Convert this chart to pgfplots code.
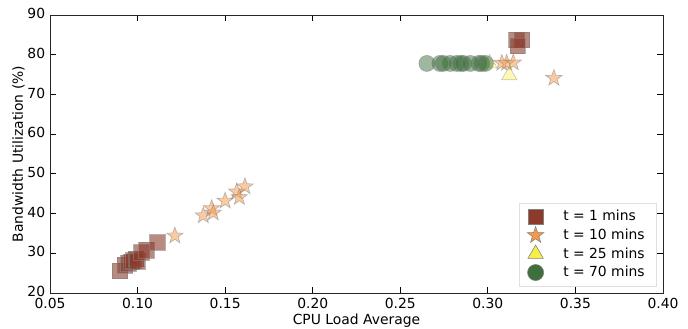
\documentclass[border=0pt]{standalone}
\usepackage{pgfplots}
\pgfplotsset{compat=1.18}
\usepackage{fontspec}
\setmainfont{DejaVu Sans}
\definecolor{sqc}{RGB}{140,58,42}
\definecolor{stc}{RGB}{246,152,72}
\definecolor{trc}{RGB}{246,240,70}
\definecolor{cic}{RGB}{62,112,62}
\definecolor{edg}{RGB}{128,128,128}
\pgfdeclareplotmark{fstar}{%
  \pgfpathmoveto{\pgfpointpolar{90}{\pgfplotmarksize}}%
  \pgfpathlineto{\pgfpointpolar{126}{0.4\pgfplotmarksize}}%
  \pgfpathlineto{\pgfpointpolar{162}{\pgfplotmarksize}}%
  \pgfpathlineto{\pgfpointpolar{198}{0.4\pgfplotmarksize}}%
  \pgfpathlineto{\pgfpointpolar{234}{\pgfplotmarksize}}%
  \pgfpathlineto{\pgfpointpolar{270}{0.4\pgfplotmarksize}}%
  \pgfpathlineto{\pgfpointpolar{306}{\pgfplotmarksize}}%
  \pgfpathlineto{\pgfpointpolar{342}{0.4\pgfplotmarksize}}%
  \pgfpathlineto{\pgfpointpolar{18}{\pgfplotmarksize}}%
  \pgfpathlineto{\pgfpointpolar{54}{0.4\pgfplotmarksize}}%
  \pgfpathclose
  \pgfusepathqfillstroke}
\begin{document}
\begin{tikzpicture}
\begin{axis}[
  name=ax,
  scale only axis,
  width=441.4pt, height=200.2pt,
  xmin=0.05, xmax=0.40, ymin=20, ymax=90,
  xtick={0.05,0.10,...,0.40},
  ytick={20,30,...,90},
  xticklabel style={/pgf/number format/fixed,/pgf/number format/precision=2,/pgf/number format/fixed zerofill},
  yticklabel style={yshift=1pt},
  /pgf/number format/assume math mode=true,
  tick align=inside,
  major tick length=4pt,
  tick style={black, line width=0.6pt},
  axis line style={black!85, line width=0.7pt},
  ticklabel style={font=\fontsize{10}{12}\selectfont},
  label style={font=\fontsize{10}{12}\selectfont},
  xlabel={CPU Load Average},
  ylabel={Bandwidth Utilization (\%)},
  xlabel style={yshift=3pt},
  ylabel style={yshift=-5pt},
  legend cell align=left,
  legend style={at={(rel axis cs:1,0)}, anchor=south east, xshift=-5pt, yshift=5pt,
    draw=black!12, font=\fontsize{10}{12}\selectfont, row sep=0.3pt,
    inner xsep=6pt, inner ysep=3pt,
    /tikz/every odd column/.style={column sep=12pt}},
]
\addlegendimage{only marks, mark=square*, mark size=5.6pt, mark options={fill=sqc, draw=edg, line width=0.4pt}}
\addlegendentry{t = 1 mins}
\addlegendimage{only marks, mark=fstar, mark size=6.2pt, mark options={fill=stc, draw=edg, line width=0.4pt}}
\addlegendentry{t = 10 mins}
\addlegendimage{only marks, mark=triangle*, mark size=6.4pt, mark options={fill=trc, draw=edg, line width=0.4pt}}
\addlegendentry{t = 25 mins}
\addlegendimage{only marks, mark=*, mark size=5.8pt, mark options={fill=cic, draw=edg, line width=0.4pt}}
\addlegendentry{t = 70 mins}

% t = 1 mins
\addplot[forget plot, only marks, mark=square*, mark size=5.6pt,
  mark options={fill=sqc, draw=edg, line width=0.5pt, opacity=0.6}] coordinates {
 (0.0900,25.6) (0.0928,27.0) (0.0947,27.5) (0.0965,27.8) (0.0976,28.2)
 (0.0990,28.6) (0.1000,28.0) (0.1023,30.2) (0.1050,30.8) (0.1113,32.7)
 (0.3164,83.7) (0.3195,83.7) (0.3170,82.2)
};
% t = 10 mins
\addplot[forget plot, only marks, mark=fstar, mark size=6.2pt,
  mark options={fill=stc, draw=edg, line width=0.5pt, opacity=0.5}] coordinates {
 (0.1213,34.4) (0.1375,39.5) (0.1423,41.3) (0.1432,40.2) (0.1500,43.2)
 (0.1566,45.5) (0.1581,44.1) (0.1613,46.8)
 (0.3080,77.9) (0.3107,77.9) (0.3145,78.0) (0.3377,74.1)
};
% t = 25 mins
\addplot[forget plot, only marks, mark=triangle*, mark size=6.4pt,
  mark options={fill=trc, draw=edg, line width=0.5pt, opacity=0.4}] coordinates {
 (0.3122,74.8) (0.3010,77.8)
};
% t = 70 mins
\addplot[forget plot, only marks, mark=*, mark size=5.8pt,
  mark options={fill=cic, draw=edg, line width=0.5pt, opacity=0.5}] coordinates {
 (0.2652,77.8) (0.2726,77.8) (0.2745,77.8) (0.2784,77.8) (0.2822,77.8)
 (0.2845,77.8) (0.2860,77.8) (0.2900,77.8) (0.2948,77.8) (0.2965,77.8)
 (0.2986,77.8)
};
\end{axis}
\pgfresetboundingbox
\path ([xshift=-36pt,yshift=-25.2pt]ax.south west) rectangle ([xshift=18pt,yshift=10.8pt]ax.north east);
\end{tikzpicture}
\end{document}
